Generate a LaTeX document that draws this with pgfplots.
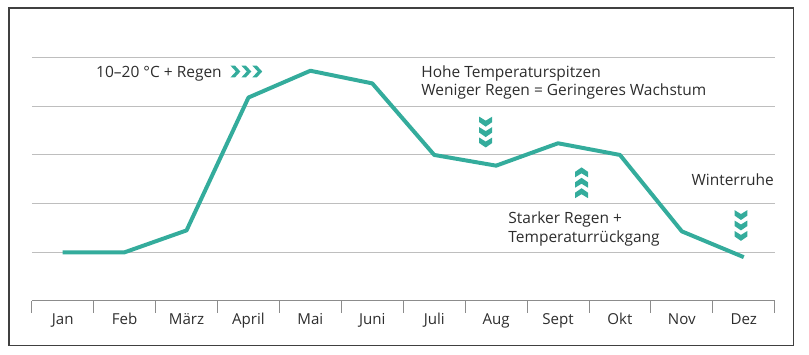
\documentclass[border=0pt]{standalone}
\usepackage{pgfplots}
\pgfplotsset{compat=1.18}
\usepackage{fontspec}
\setmainfont{Open Sans}
\definecolor{tealc}{RGB}{52,172,156}
\definecolor{txt}{RGB}{45,45,45}
\definecolor{gridc}{RGB}{190,190,190}
\definecolor{axc}{RGB}{140,140,140}
\newcommand{\lab}{\fontsize{15.6}{18}\selectfont}
\newcommand{\tlab}{\fontsize{15.2}{18}\selectfont}
\begin{document}
\begin{tikzpicture}
\begin{axis}[
  x=62.3333pt, y=49pt,
  xmin=0.5, xmax=12.5, ymin=0, ymax=6,
  clip=false,
  axis x line*=bottom, axis y line*=left,
  y axis line style={draw=none},
  x axis line style={draw=axc, line width=1pt, -},
  xtick={0.5,1.5,...,12.5},
  xticklabels={Jan,Feb,März,April,Mai,Juni,Juli,Aug,Sept,Okt,Nov,Dez,{}},
  xticklabel style={anchor=base, xshift=31.1667pt, yshift=-12pt, font=\tlab, text=txt},
  xtick style={draw=axc, line width=1pt},
  tick align=outside,
  major tick length=12pt,
  ytick={1,2,3,4,5}, yticklabels={}, ytick style={draw=none},
  ymajorgrids, grid style={draw=gridc, line width=1pt},
]
\addplot[tealc, line width=4pt, line join=round] coordinates {
  (1,1.0) (2,1.0) (3,1.45) (4,4.18) (5,4.73) (6,4.47)
  (7,3.0) (8,2.78) (9,3.24) (10,3.0) (11,1.43) (12,0.90)};
\coordinate (O) at (axis cs:0.5,0);
\end{axis}
\begin{scope}[shift={(O)}, x=1pt, y=-1pt, shift={(-32,-303)}]
  \path (0,0) rectangle (809,357);
  \draw[draw=black!75, line width=1.5pt] (9,8) rectangle (799,348);
  % right chevrons
  \foreach \cx in {237,248,259}{
    \fill[tealc] (\cx-5,66) -- (\cx-0.5,66) -- (\cx+5,72) -- (\cx-0.5,78) -- (\cx-5,78) -- (\cx+0.5,72) -- cycle;
  }
  % down chevrons Aug
  \foreach \cy in {123,133.5,144}{
    \fill[tealc] (489-6.5,\cy-5.5) -- (489,\cy-1.5) -- (489+6.5,\cy-5.5) -- (489+6.5,\cy) -- (489,\cy+4.5) -- (489-6.5,\cy) -- cycle;
  }
  % up chevrons Sept
  \foreach \cy in {173,183.5,194}{
    \fill[tealc] (585.5-6.5,\cy+5.5) -- (585.5,\cy+1.5) -- (585.5+6.5,\cy+5.5) -- (585.5+6.5,\cy) -- (585.5,\cy-4.5) -- (585.5-6.5,\cy) -- cycle;
  }
  % down chevrons Dez
  \foreach \cy in {217,227.5,238}{
    \fill[tealc] (746-6.5,\cy-5.5) -- (746,\cy-1.5) -- (746+6.5,\cy-5.5) -- (746+6.5,\cy) -- (746,\cy+4.5) -- (746-6.5,\cy) -- cycle;
  }
  \begin{scope}[every node/.style={anchor=base west, inner sep=0pt, font=\lab, text=txt}]
    \node at (96.7,78) {10–20 °C + Regen};
    \node at (424,78) {Hohe Temperaturspitzen};
    \node at (424,96.5) {Weniger Regen = Geringeres Wachstum};
    \node at (511.7,225.5) {Starker Regen +};
    \node at (511.7,244) {Temperaturrückgang};
    \node at (696,187) {Winterruhe};
  \end{scope}
\end{scope}
\end{tikzpicture}
\end{document}
